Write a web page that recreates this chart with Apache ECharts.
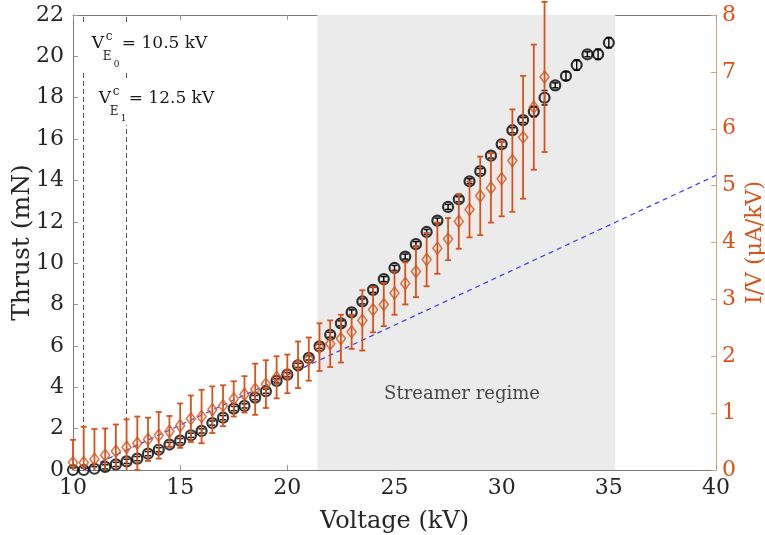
<!DOCTYPE html>
<html>
<head>
<meta charset="utf-8">
<script src="https://cdn.jsdelivr.net/npm/echarts@6/dist/echarts.min.js"></script>
<style>html,body{margin:0;padding:0;background:#fff}#c{width:765px;height:535px}</style>
</head>
<body>
<div id="c"></div>
<script>
// ---- data ----
const voltage = [10,10.5,11,11.5,12,12.5,13,13.5,14,14.5,15,15.5,16,16.5,17,17.5,18,18.5,19,19.5,20,20.5,21,21.5,22,22.5,23,23.5,24,24.5,25,25.5,26,26.5,27,27.5,28,28.5,29,29.5,30,30.5,31,31.5,32,32.5,33,33.5,34,34.5,35];
const thrust = [0.0,0.0,0.06,0.15,0.27,0.42,0.55,0.79,0.98,1.23,1.42,1.68,1.89,2.27,2.53,2.97,3.10,3.50,3.81,4.31,4.61,5.06,5.42,5.98,6.54,7.09,7.62,8.15,8.71,9.23,9.77,10.32,10.92,11.51,12.06,12.72,13.09,13.96,14.45,15.20,15.75,16.43,16.92,17.33,18.00,18.60,19.05,19.58,20.10,20.10,20.66];
const thrustErr = [0.1,0.1,0.1,0.1,0.1,0.1,0.1,0.1,0.1,0.1,0.1,0.1,0.1,0.1,0.1,0.1,0.1,0.1,0.1,0.1,0.1,0.1,0.1,0.1,0.12,0.12,0.12,0.12,0.12,0.12,0.12,0.12,0.12,0.12,0.12,0.12,0.12,0.12,0.12,0.12,0.12,0.12,0.12,0.25,0.35,0.12,0.2,0.25,0.12,0.25,0.25];
const ivVoltage = [10,10.5,11,11.5,12,12.5,13,13.5,14,14.5,15,15.5,16,16.5,17,17.5,18,18.5,19,19.5,20,20.5,21,21.5,22,22.5,23,23.5,24,24.5,25,25.5,26,26.5,27,27.5,28,28.5,29,29.5,30,30.5,31,31.5,32];
const iv = [0.13,0.13,0.19,0.26,0.33,0.40,0.47,0.54,0.61,0.68,0.78,0.90,0.94,1.06,1.13,1.25,1.33,1.42,1.51,1.63,1.69,1.85,1.95,2.16,2.22,2.31,2.43,2.63,2.82,2.91,3.11,3.28,3.49,3.70,3.90,4.06,4.37,4.58,4.82,4.96,5.12,5.44,5.85,6.38,6.91];
const ivErr = [0.40,0.63,0.53,0.47,0.47,0.49,0.47,0.38,0.41,0.27,0.39,0.41,0.47,0.41,0.36,0.31,0.32,0.45,0.42,0.37,0.34,0.41,0.38,0.42,0.41,0.42,0.30,0.53,0.40,0.38,0.38,0.37,0.45,0.47,0.45,0.37,0.48,0.49,0.69,0.61,0.66,0.90,1.08,1.10,1.32];
const fitLine = [[10.5,0],[40,5.18]];
const streamerRange = [21.4, 35.3];
const onsetVoltages = [10.5, 12.5];
const xTicks = {min:10, max:40, interval:5};
const yLeftTicks = {min:0, max:22, interval:2};
const yRightTicks = {min:0, max:8, interval:1};

const ORANGE = '#D95319';
const FONT = 'DejaVu Serif';
const chart = echarts.init(document.getElementById('c'), null, {renderer:'canvas'});

function errRender(capW, color, lw){
  return function(params, api){
    const x = api.value(0), v = api.value(1), e = api.value(2);
    const lo = Math.max(v - e, 0);
    const top = api.coord([x, v + e]);
    const bot = api.coord([x, lo]);
    const st = {stroke: color, lineWidth: lw};
    const ch = [
      {type:'line', shape:{x1:top[0], y1:top[1], x2:bot[0], y2:bot[1]}, style:st},
      {type:'line', shape:{x1:top[0]-capW, y1:top[1], x2:top[0]+capW, y2:top[1]}, style:st}
    ];
    if (v - e >= 0) ch.push({type:'line', shape:{x1:bot[0]-capW, y1:bot[1], x2:bot[0]+capW, y2:bot[1]}, style:st});
    return {type:'group', children: ch};
  };
}

const option = {
  animation: false,
  backgroundColor: '#fff',
  grid: {left: 73, right: 49, top: 15, bottom: 65, containLabel: false, outerBoundsMode: 'none'},
  xAxis: [
    {type:'value', min:xTicks.min, max:xTicks.max, interval:xTicks.interval, position:'bottom',
     axisLine:{show:true, onZero:false, lineStyle:{color:'#7a7a7a', width:1}},
     axisTick:{show:true, inside:true, length:5, lineStyle:{color:'#9a9a9a'}},
     axisLabel:{color:'#262626', fontSize:22, fontFamily:FONT, margin:7},
     splitLine:{show:false},
     name:'Voltage (kV)', nameLocation:'middle', nameGap:40, nameMoveOverlap:false,
     nameTextStyle:{color:'#262626', fontSize:24, fontFamily:FONT}},
    {type:'value', min:xTicks.min, max:xTicks.max, interval:xTicks.interval, position:'top',
     axisLine:{show:true, onZero:false, lineStyle:{color:'#7a7a7a', width:1}},
     axisTick:{show:true, inside:true, length:5, lineStyle:{color:'#9a9a9a'}},
     axisLabel:{show:false}, splitLine:{show:false}}
  ],
  yAxis: [
    {type:'value', min:yLeftTicks.min, max:yLeftTicks.max, interval:yLeftTicks.interval, position:'left',
     axisLine:{show:true, onZero:false, lineStyle:{color:'#7a7a7a', width:1}},
     axisTick:{show:true, inside:true, length:5, lineStyle:{color:'#9a9a9a'}},
     axisLabel:{color:'#262626', fontSize:22, fontFamily:FONT, margin:9},
     splitLine:{show:false},
     name:'Thrust (mN)', nameLocation:'middle', nameGap:38, nameRotate:90, nameMoveOverlap:false,
     nameTextStyle:{color:'#262626', fontSize:25, fontFamily:FONT}},
    {type:'value', min:yRightTicks.min, max:yRightTicks.max, interval:yRightTicks.interval, position:'right',
     axisLine:{show:true, onZero:false, lineStyle:{color:'#DDA07F', width:1}},
     axisTick:{show:true, inside:true, length:5, lineStyle:{color:'#DDA07F'}},
     axisLabel:{color:ORANGE, fontSize:22, fontFamily:FONT, margin:6},
     splitLine:{show:false},
     name:'I/V (μA/kV)', nameLocation:'middle', nameGap:28, nameRotate:90, nameMoveOverlap:false,
     nameTextStyle:{color:ORANGE, fontSize:22, fontFamily:FONT}}
  ],
  series: [
    {type:'line', name:'regions', data:[], z:1, silent:true,
     markArea:{silent:true, itemStyle:{color:'#ebebeb'}, data:[[{xAxis:streamerRange[0]},{xAxis:streamerRange[1]}]]},
     markLine:{silent:true, symbol:['none','none'], label:{show:false},
       lineStyle:{color:'#555', width:1, type:[5,3]},
       data: onsetVoltages.map(v => ({xAxis:v}))}},
    {type:'line', name:'fit', yAxisIndex:1, data:fitLine, symbol:'none', z:3,
     lineStyle:{color:'#3a3af0', width:1.2, type:[5,4]}},
    {type:'custom', name:'thrustErr', z:4, clip:false,
     data: voltage.map((v,i)=>[v, thrust[i], thrustErr[i]]),
     renderItem: errRender(3, '#000', 1.4)},
    {type:'scatter', name:'Thrust', z:5, clip:false,
     data: voltage.map((v,i)=>[v, thrust[i]]),
     symbol:'circle', symbolSize:10,
     itemStyle:{color:'rgba(0,0,0,0)', borderColor:'#000', borderWidth:2.2}},
    {type:'custom', name:'ivErr', yAxisIndex:1, z:6, clip:false,
     data: ivVoltage.map((v,i)=>[v, iv[i], ivErr[i]]),
     renderItem: errRender(3, ORANGE, 1.8)},
    {type:'scatter', name:'I/V', yAxisIndex:1, z:7, clip:false,
     data: ivVoltage.map((v,i)=>[v, iv[i]]),
     symbol:'diamond', symbolSize:[9,12],
     itemStyle:{color:'rgba(0,0,0,0)', borderColor:ORANGE, borderWidth:1.6}},
    {type:'scatter', name:'label', z:8, silent:true,
     data:[[28.15, 3.67]], symbolSize:0,
     label:{show:true, position:'inside', formatter:'Streamer regime', color:'#1a1a1a', fontSize:18, fontFamily:FONT}}
  ]
};
chart.setOption(option);

function vLabel(anchorData, sub, text){
  const p = chart.convertToPixel({xAxisIndex:0, yAxisIndex:0}, anchorData);
  const ax = p[0], by = p[1];
  // place text by its vertical middle; baseline ≈ middle + 0.36*fontSize
  const t = (x, base, s, fs) => ({type:'text', z:101, x:x, y:base - 0.36*fs,
      style:{text:s, fontSize:fs, fontFamily:FONT, fill:'#1a1a1a', verticalAlign:'middle', align:'left'}});
  return [
    {type:'rect', z:100, shape:{x:ax-12, y:by-25, width:132, height:46}, style:{fill:'#fff'}},
    t(ax, by, 'V', 17),
    t(ax+14, by-8, 'c', 12),
    t(ax+11, by+12, 'E', 12),
    t(ax+22, by+18, sub, 9),
    t(ax+30, by, text, 17)
  ];
}
const g = [].concat(
  vLabel([10.88, 20.33], '0', '= 10.5 kV'),
  vLabel([11.2, 17.68], '1', '= 12.5 kV')
);
chart.setOption({graphic: g});
</script>
</body>
</html>
